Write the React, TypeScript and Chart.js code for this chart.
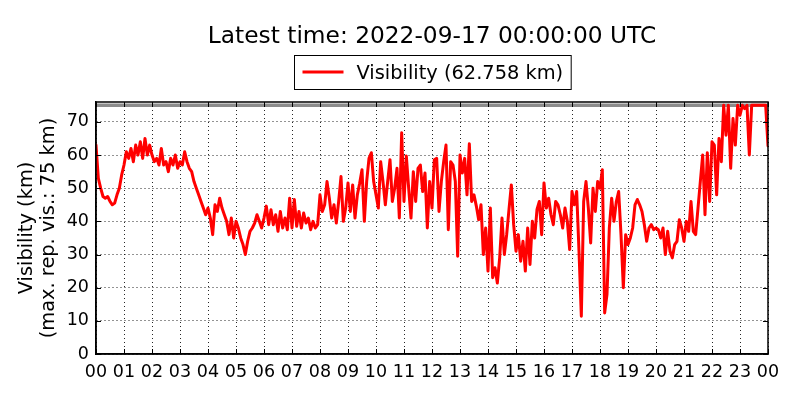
import { useEffect, useRef } from 'react'
import { Chart, registerables } from 'chart.js'

Chart.register(...registerables)

const TITLE = 'Latest time: 2022-09-17 00:00:00 UTC'
const LEGEND_LABEL = 'Visibility (62.758 km)'
const Y_TITLE = ['Visibility (km)', '(max. rep. vis.: 75 km)']
const MAX_REP_VIS = 75
const Y_MAX = 76

// x axis runs over one day, labelled by hour (00 .. 23, then 00 again)
const HOUR_LABELS = [
  '00', '01', '02', '03', '04', '05', '06', '07', '08', '09', '10', '11',
  '12', '13', '14', '15', '16', '17', '18', '19', '20', '21', '22', '23', '00',
]
const Y_TICKS = [0, 10, 20, 30, 40, 50, 60, 70]

// visibility (km), read every 5 minutes, one row per hour
const VIS_H00 = [63, 53, 50, 47.5, 47, 47.5, 46, 45, 45.5, 48, 50, 54]
const VIS_H01 = [57, 61, 59, 62, 58, 63, 60, 64, 59, 65, 60, 63]
const VIS_H02 = [60, 58, 59, 57, 62, 57, 58, 55, 59, 57, 60, 56]
const VIS_H03 = [58, 57, 61, 58, 56, 55, 52, 50, 48, 46, 44, 42]
const VIS_H04 = [44, 41, 36, 45, 43, 47, 44, 42, 40, 36, 41, 35]
const VIS_H05 = [40, 38, 35, 33, 30, 34, 37, 38, 39.5, 42, 40, 38]
const VIS_H06 = [41, 44.6, 39, 43.5, 39, 42, 37, 43, 38, 41, 37.5, 47]
const VIS_H07 = [38, 46.6, 38.5, 43, 38, 42.5, 39.5, 41, 37.5, 40, 38, 39]
const VIS_H08 = [48, 43, 45, 52, 47, 41, 45, 39.5, 46, 53.5, 40, 44]
const VIS_H09 = [51.6, 43, 51, 41, 48, 51.5, 55.6, 40, 52, 59, 60.7, 52]
const VIS_H10 = [48, 44, 58, 52, 45, 52, 58.6, 46, 50, 56, 41, 66.7]
const VIS_H11 = [46, 59.7, 50, 41, 55, 46, 56, 57, 49, 54.6, 38, 52]
const VIS_H12 = [44, 58.6, 59, 43, 52, 58, 63, 37.5, 58, 57, 52, 29.5]
const VIS_H13 = [60, 54.6, 59, 48, 63.4, 46, 48, 44.6, 40.5, 45, 30, 38]
const VIS_H14 = [25, 44, 23, 26, 21.4, 29, 41, 30, 36, 43.6, 51, 39]
const VIS_H15 = [31, 36, 28, 34, 25, 38, 27, 40, 35, 43.6, 46, 36]
const VIS_H16 = [51.6, 44, 47, 42, 39, 46, 45, 42, 38, 44, 40, 31.5]
const VIS_H17 = [49, 45, 49, 31, 11.4, 46, 52, 44, 33.5, 50, 43, 52]
const VIS_H18 = [50, 55.6, 12.4, 18, 38, 47, 40, 46, 49, 36, 20, 36]
const VIS_H19 = [33, 35, 38, 45, 46.6, 45, 43, 39, 34, 38, 39, 37.5]
const VIS_H20 = [38, 37.5, 35, 38, 30, 37, 31, 29, 33, 34, 40.5, 38]
const VIS_H21 = [34, 40, 37, 46, 37, 36, 44, 52, 60, 42, 60.7, 46]
const VIS_H22 = [64, 63, 48, 65, 58, 75, 66, 75, 56, 71, 63, 75]
const VIS_H23 = [72, 75, 74, 75, 60, 75, 75, 75, 75, 75, 75, 75]
const VIS_LAST = [62.758]

const VISIBILITY = [
  ...VIS_H00, ...VIS_H01, ...VIS_H02, ...VIS_H03, ...VIS_H04, ...VIS_H05,
  ...VIS_H06, ...VIS_H07, ...VIS_H08, ...VIS_H09, ...VIS_H10, ...VIS_H11,
  ...VIS_H12, ...VIS_H13, ...VIS_H14, ...VIS_H15, ...VIS_H16, ...VIS_H17,
  ...VIS_H18, ...VIS_H19, ...VIS_H20, ...VIS_H21, ...VIS_H22, ...VIS_H23,
  ...VIS_LAST,
]

const FONT = "'DejaVu Sans', sans-serif"

// frame, inward tick marks, title and boxed legend (matplotlib look)
const decorations = {
  id: 'decorations',
  afterDatasetsDraw(chart: Chart) {
    const { ctx, chartArea: a, scales } = chart
    const xs = scales.x
    const ys = scales.y
    ctx.save()
    ctx.strokeStyle = '#000'
    ctx.lineWidth = 1
    ctx.beginPath()
    HOUR_LABELS.forEach((_, h) => {
      const px = Math.round(xs.getPixelForValue(h)) + 0.5
      ctx.moveTo(px, a.bottom); ctx.lineTo(px, a.bottom - 5)
      ctx.moveTo(px, a.top); ctx.lineTo(px, a.top + 5)
    })
    Y_TICKS.forEach(v => {
      const py = Math.round(ys.getPixelForValue(v)) + 0.5
      ctx.moveTo(a.left, py); ctx.lineTo(a.left + 5, py)
      ctx.moveTo(a.right, py); ctx.lineTo(a.right - 5, py)
    })
    ctx.stroke()
    ctx.lineWidth = 1.5
    ctx.strokeRect(a.left, a.top, a.right - a.left, a.bottom - a.top)
    ctx.restore()
  },
  afterDraw(chart: Chart) {
    const { ctx, chartArea: a } = chart
    const cx = (a.left + a.right) / 2
    ctx.save()
    ctx.fillStyle = '#000'
    ctx.textBaseline = 'alphabetic'
    ctx.textAlign = 'center'
    ctx.font = `23.3px ${FONT}`
    ctx.fillText(TITLE, cx, 42.5)

    // legend box
    ctx.font = `19.4px ${FONT}`
    const tw = ctx.measureText(LEGEND_LABEL).width
    const boxW = 62 + tw + 8
    const bx = Math.round(cx - boxW / 2) + 0.5
    const by = 55.5
    ctx.fillStyle = '#fff'
    ctx.fillRect(bx, by, boxW, 34)
    ctx.strokeStyle = '#000'
    ctx.lineWidth = 1
    ctx.strokeRect(bx, by, boxW, 34)
    ctx.strokeStyle = 'red'
    ctx.lineWidth = 3
    ctx.beginPath()
    ctx.moveTo(bx + 8, 72)
    ctx.lineTo(bx + 49, 72)
    ctx.stroke()
    ctx.fillStyle = '#000'
    ctx.textAlign = 'left'
    ctx.fillText(LEGEND_LABEL, bx + 62, 78.5)
    ctx.restore()
  },
}

export default function App() {
  const canvasRef = useRef<HTMLCanvasElement>(null)
  const chartRef = useRef<Chart | null>(null)

  useEffect(() => {
    if (!canvasRef.current) return
    document.body.style.margin = '0'
    chartRef.current?.destroy()

    const points = VISIBILITY.map((v, i) => ({ x: (i * 5) / 60, y: v }))

    chartRef.current = new Chart(canvasRef.current, {
      type: 'line',
      data: {
        datasets: [
          {
            label: LEGEND_LABEL,
            data: points,
            borderColor: 'red',
            borderWidth: 3,
            borderJoinStyle: 'round',
            borderCapStyle: 'round',
            pointRadius: 0,
            tension: 0,
            order: 1,
          },
          {
            label: 'max. rep. vis.',
            data: [{ x: 0, y: MAX_REP_VIS }, { x: 24, y: MAX_REP_VIS }],
            borderColor: '#8c8c8c',
            borderWidth: 3.5,
            pointRadius: 0,
            order: 2,
          },
        ],
      },
      options: {
        animation: false,
        responsive: true,
        maintainAspectRatio: false,
        layout: { padding: { left: 0, right: 32, top: 102, bottom: 0 } },
        plugins: {
          legend: { display: false },
          title: { display: false },
          tooltip: { enabled: false },
        },
        scales: {
          x: {
            type: 'linear',
            min: 0,
            max: 24,
            afterFit: (s: any) => { s.height = 46 },
            afterBuildTicks: (s: any) => {
              s.ticks = HOUR_LABELS.map((_, h) => ({ value: h }))
            },
            ticks: {
              autoSkip: false,
              maxRotation: 0,
              padding: 8,
              color: '#000',
              font: { family: FONT, size: 17.5 },
              callback: (v: any) => HOUR_LABELS[Number(v)] ?? '',
            },
            grid: { color: 'rgba(0,0,0,0.85)', lineWidth: 1, drawTicks: false },
            border: { display: true, color: '#000', width: 1.5, dash: [1, 3] },
          },
          y: {
            type: 'linear',
            min: 0,
            max: Y_MAX,
            afterFit: (s: any) => { s.width = 96 },
            afterBuildTicks: (s: any) => {
              s.ticks = Y_TICKS.map(v => ({ value: v }))
            },
            ticks: {
              padding: 7,
              color: '#000',
              font: { family: FONT, size: 17.5 },
            },
            grid: { color: 'rgba(0,0,0,0.85)', lineWidth: 1, drawTicks: false },
            border: { display: true, color: '#000', width: 1.5, dash: [1, 3] },
            title: {
              display: true,
              text: Y_TITLE,
              color: '#000',
              font: { family: FONT, size: 19.4, lineHeight: 1.15 },
              padding: { top: 15.8, bottom: 0 },
            },
          },
        },
      },
      plugins: [decorations],
    })

    return () => chartRef.current?.destroy()
  }, [])

  return (
    <div style={{ position: 'fixed', left: 0, top: 0, width: 800, height: 400, background: '#fff' }}>
      <canvas ref={canvasRef} />
    </div>
  )
}
